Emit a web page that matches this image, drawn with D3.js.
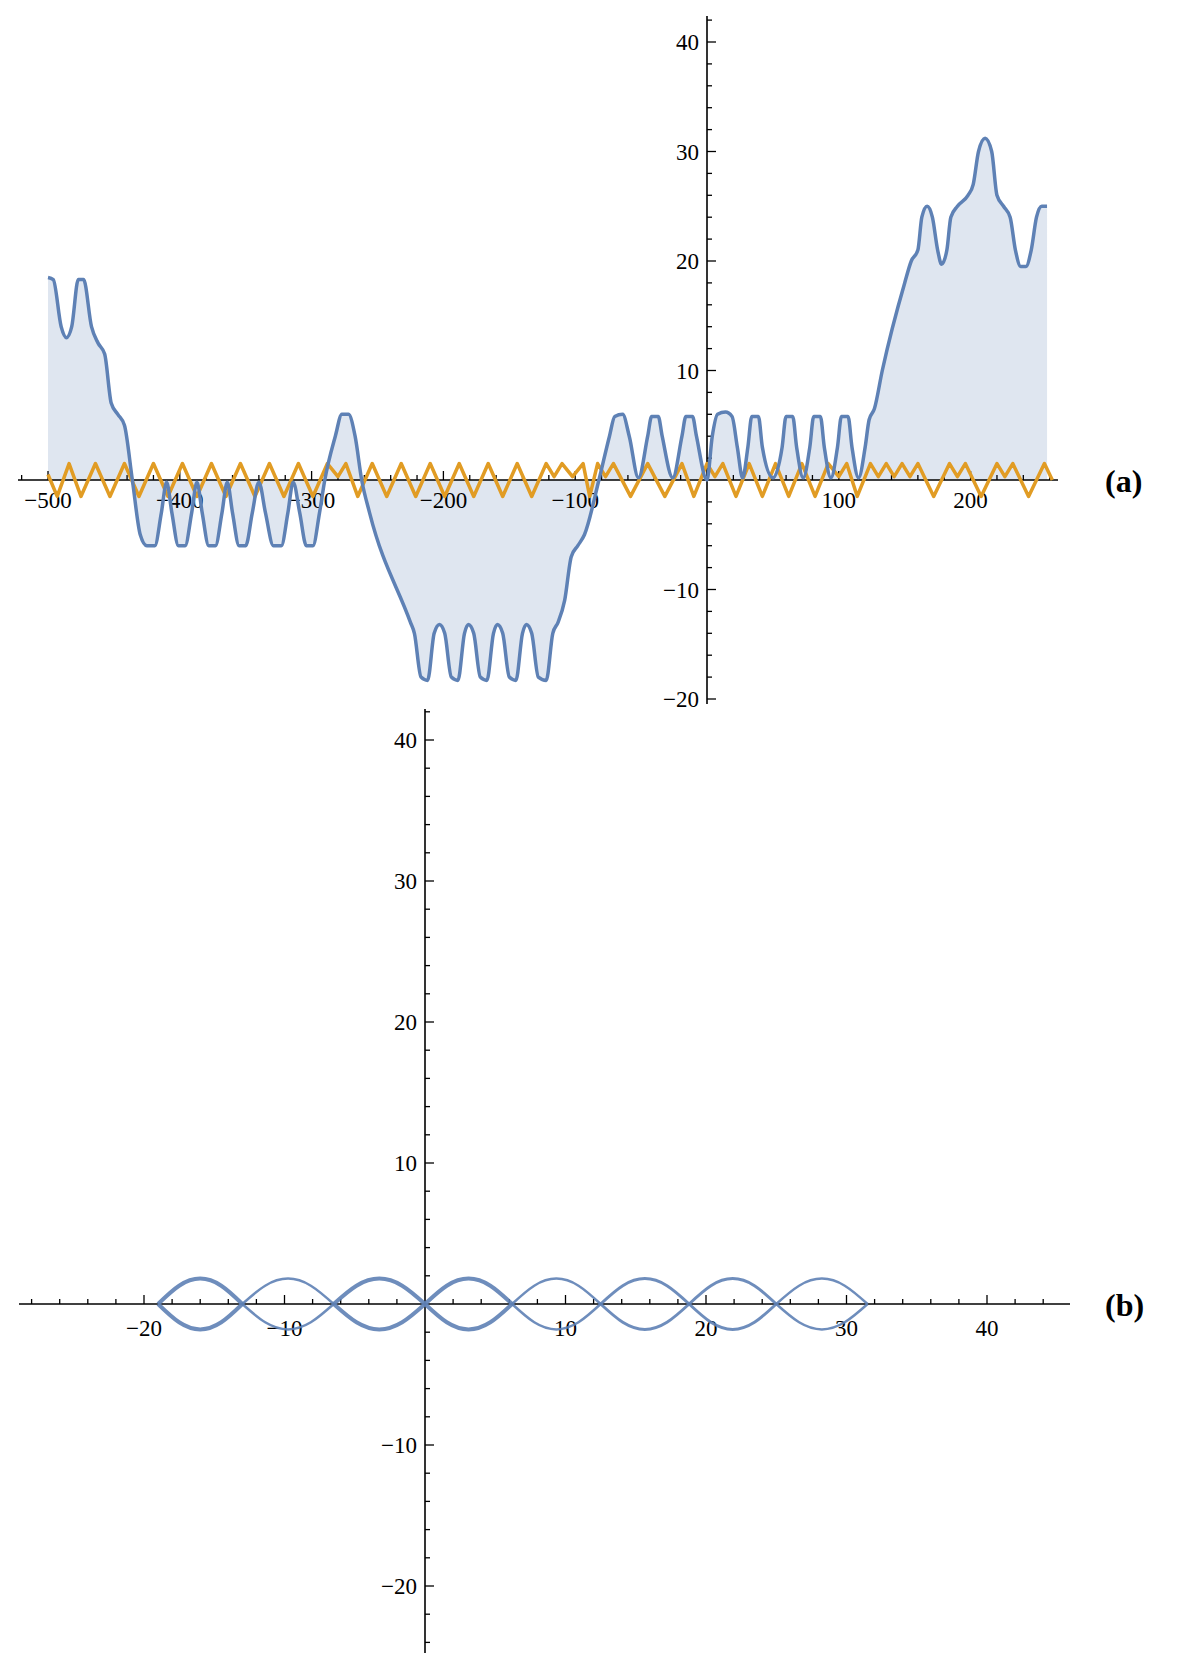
<!DOCTYPE html>
<html><head><meta charset="utf-8">
<script src="https://cdn.jsdelivr.net/npm/d3@7"></script>
<style>body{margin:0;background:#fff}text{font-family:"Liberation Serif",serif}</style>
</head><body><svg id="c" width="1177" height="1678"></svg>
<script>
const blueA = [[-500,18.5],[-496,18.3],[-490,14],[-486,13],[-482,14],[-477,18.3],[-473,18.3],[-467,14],[-462,12.5],[-457,11.5],[-452,7],[-447,6],[-442,5],[-436,0],[-430,-5],[-425,-6],[-419,-6],[-414,-3],[-410,-0.2],[-406,-3],[-401,-6],[-396,-6],[-391,-3],[-387,-0.2],[-383,-3],[-378,-6],[-373,-6],[-368,-3],[-364,-0.2],[-360,-3],[-355,-6],[-350,-6],[-345,-3],[-340,-0.2],[-335,-3],[-329,-6],[-323,-6],[-318,-3],[-314,-0.2],[-309,-3],[-304,-6],[-299,-6],[-294,-3],[-290,0],[-282,4],[-277,6],[-272,6],[-267,4],[-262,0],[-256,-3],[-225,-13],[-222,-14],[-217,-18],[-212,-18.3],[-207,-14],[-203,-13.2],[-199,-14],[-194,-18],[-189,-18.3],[-184,-14],[-181,-13.2],[-177,-14],[-172,-18],[-167,-18.3],[-162,-14],[-159,-13.2],[-155,-14],[-150,-18],[-145,-18.3],[-140,-14],[-137,-13.2],[-133,-14],[-128,-18],[-122,-18.3],[-117,-14],[-113,-13],[-108,-11],[-103,-7],[-98,-6],[-93,-5],[-82,0],[-74,4],[-70,5.8],[-64,6],[-59,4],[-52,0.2],[-45,4],[-42,5.8],[-37,5.8],[-34,4],[-26,0.2],[-19,4],[-16,5.8],[-11,5.8],[-8,4],[0,0],[4,4],[8,6],[14,6.2],[19,5.8],[23,3],[27,0.2],[31,3],[34,5.8],[39,5.8],[42,3],[50,0.2],[57,3],[60,5.8],[65,5.8],[68,3],[73,0.2],[78,3],[81,5.8],[86,5.8],[89,3],[94,0.2],[99,3],[102,5.8],[107,5.8],[110,3],[115,0.2],[120,3],[123,5.5],[127,6.5],[133,10],[150,18],[155,20],[160,21],[163,24],[167,25],[171,24],[175,21],[178,19.7],[182,21],[185,24],[190,25],[198,26],[202,27],[206,30],[211,31.2],[216,30],[220,26],[225,25],[230,24],[234,21],[238,19.5],[242,19.5],[246,21],[250,24],[254,25],[258,25]];
const orangeA = [[-500,0.5],[-493,-1.5],[-484,1.5],[-475,-1.5],[-464,1.5],[-453,-1.5],[-442,1.5],[-431,-1.5],[-420,1.5],[-409,-1.5],[-398,1.5],[-387,-1.5],[-376,1.5],[-365,-1.5],[-354,1.5],[-343,-1.5],[-332,1.5],[-321,-1.5],[-310,1.5],[-299,-1.5],[-288,1.5],[-280,0.3],[-274,1.5],[-265,-1.5],[-254,1.5],[-243,-1.5],[-232,1.5],[-221,-1.5],[-210,1.5],[-199,-1.5],[-188,1.5],[-177,-1.5],[-166,1.5],[-155,-1.5],[-144,1.5],[-133,-1.5],[-122,1.5],[-116,0.3],[-110,1.5],[-102,0.3],[-94,1.5],[-89,-1.5],[-83,1.5],[-77,0.3],[-71,1.5],[-58,-1.5],[-45,1.5],[-32,-1.5],[-19,1.5],[-10,-1.5],[0,1.5],[6,0.3],[12,1.5],[22,-1.5],[32,1.5],[42,-1.5],[52,1.5],[62,-1.5],[72,1.5],[82,-1.5],[92,1.5],[100,0.3],[106,1.5],[114,-1.5],[124,1.5],[130,0.3],[136,1.5],[142,0.3],[148,1.5],[154,0.3],[160,1.5],[172,-1.5],[184,1.5],[190,0.3],[196,1.5],[208,-1.5],[220,1.5],[226,0.3],[232,1.5],[244,-1.5],[256,1.5],[262,0]];
const xTicksA = [-500,-400,-300,-200,-100,100,200];
const yTicksA = [-20,-10,10,20,30,40];
const crossB = [-19,-13,-6.5,0,6.2,12.5,18.8,25,31.5];
const ampB = [1.8,1.8,1.8,1.8,1.8,1.8,1.8,1.8];
const widthB = [4,2.5,4,4,2.5,3,3,2.5];
const xTicksB = [-20,-10,10,20,30,40];
const yTicksB = [-20,-10,10,20,30,40];

const svg = d3.select("#c");
const blue = "#5e81b5", orange = "#e19c24";

function axes(x, y, xr, yr, xt, yt, minX, minY, xLabDy){
  const g = svg.append("g");
  const x0 = x(0), y0 = y(0);
  const xd = x.domain(), yd = y.domain();
  g.append("line").attr("x1",x.range()[0]).attr("x2",x.range()[1]).attr("y1",y0).attr("y2",y0).attr("stroke","#000").attr("stroke-width",1.6);
  g.append("line").attr("x1",x0).attr("x2",x0).attr("y1",y.range()[0]).attr("y2",y.range()[1]).attr("stroke","#000").attr("stroke-width",1.6);
  d3.range(xr[0],xr[1]+0.001,minX).forEach(v=>{ if(Math.abs(v)<1e-9 || v<xd[0] || v>xd[1]) return;
    const maj = xt.includes(Math.round(v));
    g.append("line").attr("x1",x(v)).attr("x2",x(v)).attr("y1",y0).attr("y2",y0-(maj?9:5)).attr("stroke","#000").attr("stroke-width",1.3);});
  d3.range(yr[0],yr[1]+0.001,minY).forEach(v=>{ if(Math.abs(v)<1e-9 || v<yd[0] || v>yd[1]) return;
    const maj = yt.includes(Math.round(v));
    g.append("line").attr("x1",x0).attr("x2",x0+(maj?9:5)).attr("y1",y(v)).attr("y2",y(v)).attr("stroke","#000").attr("stroke-width",1.3);});
  xt.forEach(v=>g.append("text").attr("x",x(v)).attr("y",y0+xLabDy).attr("text-anchor","middle").attr("font-size",23).text(v<0?"\u2212"+(-v):v));
  yt.forEach(v=>g.append("text").attr("x",x0-8).attr("y",y(v)+8).attr("text-anchor","end").attr("font-size",23).text(v<0?"\u2212"+(-v):v));
}

// Panel (a)
const ka = 659/500, ya0 = 480, kya = (480-42)/40;
const xA = d3.scaleLinear().domain([(18-707)/ka,(1058-707)/ka]).range([18,1058]);
const yA = d3.scaleLinear().domain([-(704-ya0)/kya,(ya0-16)/kya]).range([704,16]);
svg.append("path").datum(blueA).attr("fill",blue).attr("fill-opacity",0.2)
  .attr("d",d3.area().x(d=>xA(d[0])).y0(yA(0)).y1(d=>yA(d[1])).curve(d3.curveMonotoneX));
axes(xA,yA,[-520,260],[-22,42],xTicksA,yTicksA,20,2,28);
svg.append("path").datum(orangeA).attr("fill","none").attr("stroke",orange).attr("stroke-width",3.5).attr("stroke-linejoin","round")
  .attr("d",d3.line().x(d=>xA(d[0])).y(d=>yA(d[1])));
svg.append("path").datum(blueA).attr("fill","none").attr("stroke",blue).attr("stroke-width",3.5)
  .attr("d",d3.line().x(d=>xA(d[0])).y(d=>yA(d[1])).curve(d3.curveMonotoneX));
svg.append("text").attr("x",1105).attr("y",492).attr("font-size",32).attr("font-weight","bold").text("(a)");

// Panel (b)
const sx = (987-425)/40, sy = (1304-740)/40;
const xB = d3.scaleLinear().domain([(19-425)/sx,(1070-425)/sx]).range([19,1070]);
const yB = d3.scaleLinear().domain([-(1653-1304)/sy,(1304-709)/sy]).range([1653,709]);
axes(xB,yB,[-30,48],[-26,44],xTicksB,yTicksB,2,2,32);
const arcLine = d3.line().x(d=>xB(d[0])).y(d=>yB(d[1])).curve(d3.curveNatural);
[1,-1].forEach(s=>{
  for(let i=0;i<crossB.length-1;i++){
    const a=crossB[i], b=crossB[i+1], m=(a+b)/2, q=(b-a)/4;
    const pts=[[a,0],[a+q,s*ampB[i]*0.72],[m,s*ampB[i]],[b-q,s*ampB[i]*0.72],[b,0]];
    svg.append("path").datum(pts).attr("fill","none").attr("stroke",blue).attr("stroke-width",widthB[i]).attr("stroke-opacity",0.9).attr("d",arcLine);
  }
});
svg.append("text").attr("x",1105).attr("y",1316).attr("font-size",32).attr("font-weight","bold").text("(b)");
</script></body></html>
